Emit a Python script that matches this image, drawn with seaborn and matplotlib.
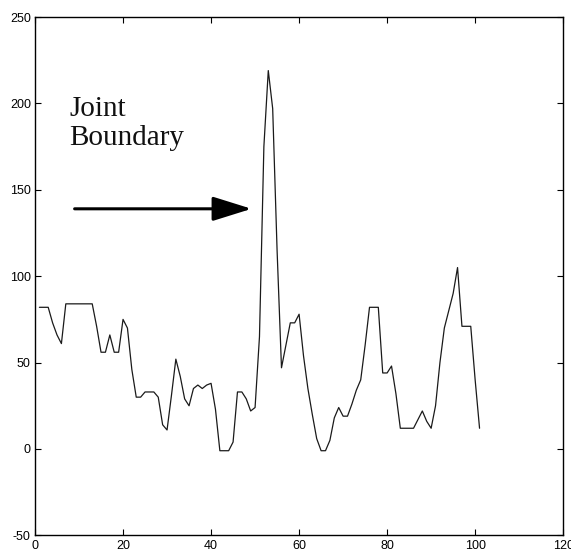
# ─────────────────────────────────────────
# Joint boundary profile plot
# ─────────────────────────────────────────
import numpy as np
import pandas as pd
import matplotlib
matplotlib.use("Agg")
import matplotlib.pyplot as plt
import seaborn as sns

# ─────────────────────────────────────────
# Data
# ─────────────────────────────────────────
sample_index = list(range(1, 102))
profile_values = [
    82, 82, 82, 73, 66, 61, 84, 84, 84, 84,
    84, 84, 84, 71, 56, 56, 66, 56, 56, 75,
    70, 46, 30, 30, 33, 33, 33, 30, 14, 11,
    31, 52, 42, 29, 25, 35, 37, 35, 37, 38,
    23, -1, -1, -1, 4, 33, 33, 29, 22, 24,
    65, 175, 219, 197, 115, 47, 60, 73, 73, 78,
    54, 35, 20, 6, -1, -1, 5, 18, 24, 19,
    19, 26, 34, 40, 60, 82, 82, 82, 44, 44,
    48, 32, 12, 12, 12, 12, 17, 22, 16, 12,
    25, 50, 70, 80, 90, 105, 71, 71, 71, 40,
    12,
]
x_ticks = [0, 20, 40, 60, 80, 100, 120]
y_ticks = [-50, 0, 50, 100, 150, 200, 250]
label_text = "Joint\nBoundary"

df = pd.DataFrame({"index": sample_index, "value": profile_values})

# ─────────────────────────────────────────
# Plot
# ─────────────────────────────────────────
sns.set_style("ticks")
plt.rcParams["font.family"] = ["Liberation Sans", "DejaVu Sans"]
plt.rcParams["axes.unicode_minus"] = False

fig = plt.figure(figsize=(5.71, 5.54), dpi=100)
ax = fig.add_axes([0.0613, 0.0336, 0.925, 0.9357])

sns.lineplot(data=df, x="index", y="value", ax=ax,
             color="#1a1a1a", linewidth=0.9)

ax.set_xlim(0, 120)
ax.set_ylim(-50, 250)
ax.set_xticks(x_ticks)
ax.set_yticks(y_ticks)
ax.set_xlabel("")
ax.set_ylabel("")

for side in ["top", "right", "left", "bottom"]:
    ax.spines[side].set_visible(True)
    ax.spines[side].set_color("black")
    ax.spines[side].set_linewidth(1.0)

ax.tick_params(direction="in", length=4, width=0.8, top=True, right=True,
               labelsize=9, colors="black", pad=3)

# annotation text + arrow
ax.text(7.8, 204.5, label_text, fontsize=21, family=["Liberation Serif", "DejaVu Serif"],
        va="top", ha="left", linespacing=1.15, color="#111111")
ax.annotate("", xy=(49.2, 139), xytext=(9, 139),
            arrowprops=dict(arrowstyle="-|>,head_length=2.4,head_width=0.75",
                            mutation_scale=10, color="black", lw=2.2,
                            shrinkA=0, shrinkB=0))

plt.savefig("out.png", dpi=100)
